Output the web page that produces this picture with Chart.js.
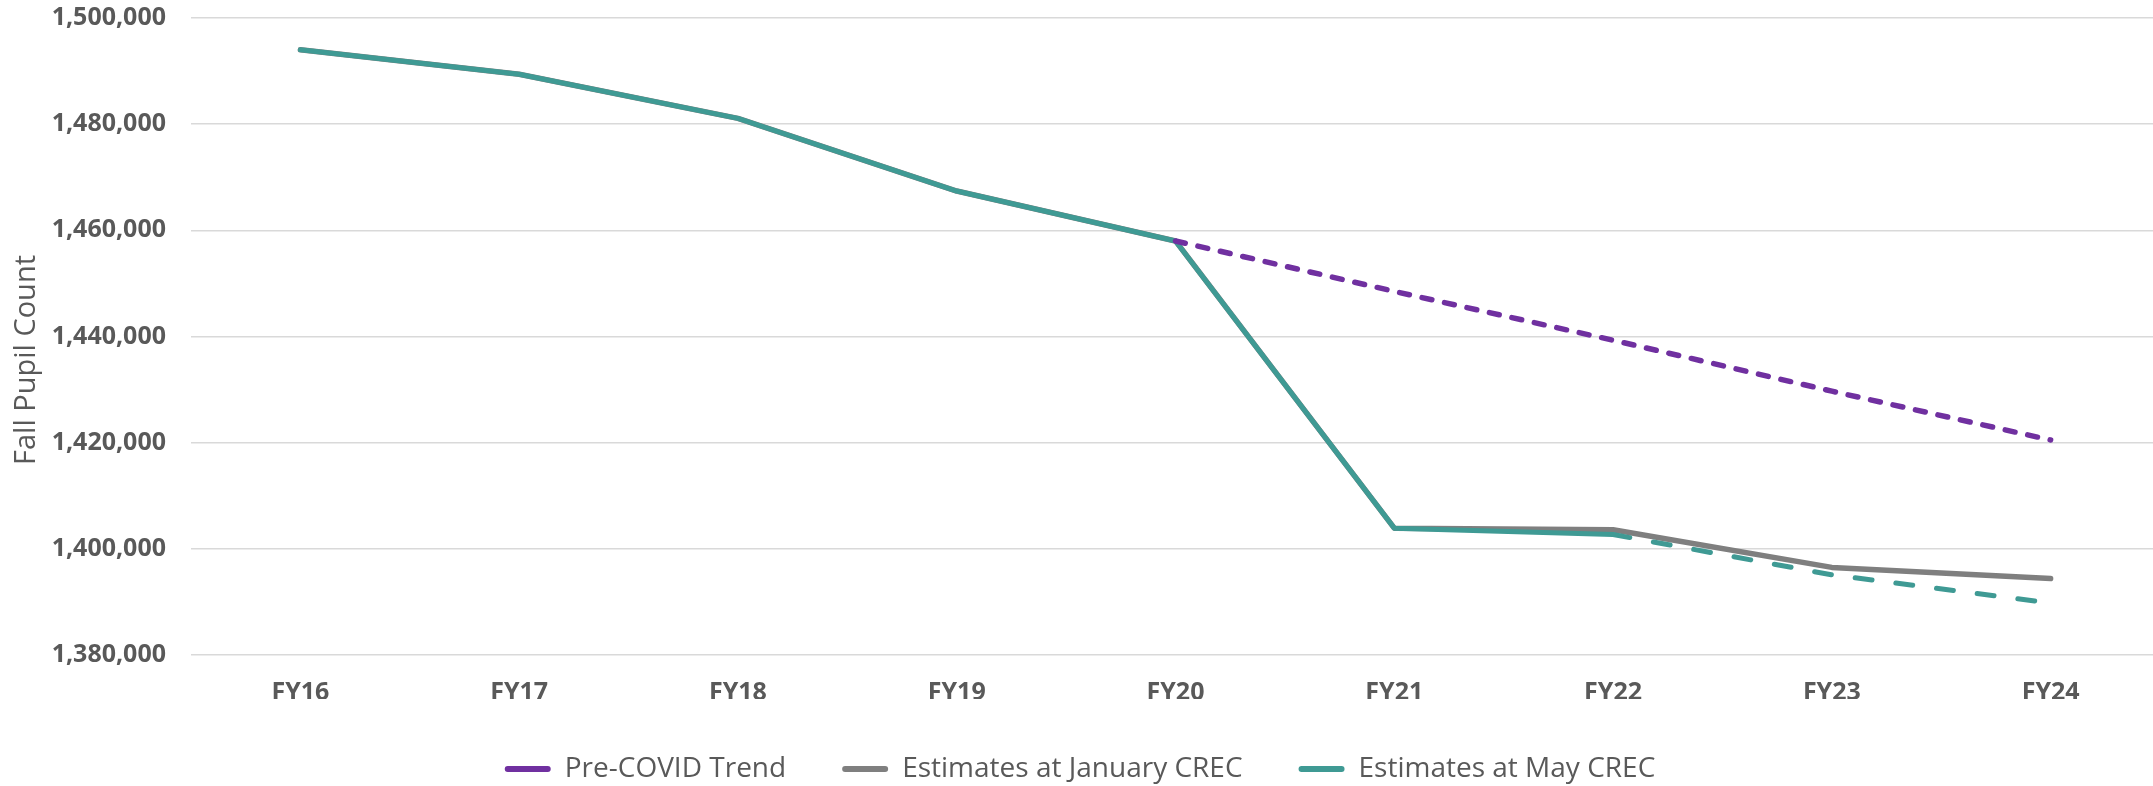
<!DOCTYPE html>
<html>
<head>
<meta charset="utf-8">
<script src="https://cdn.jsdelivr.net/npm/chart.js@4/dist/chart.umd.min.js"></script>
<style>
    html, body { margin: 0; padding: 0; background: #fff; overflow: hidden; }
    #wrap { width: 2153px; height: 786px; overflow: hidden; }
    canvas { display: block; }
</style>
</head>
<body>
<div id="wrap"><canvas id="pupilChart" width="2160" height="793"></canvas></div>
<script>
(function () {
    'use strict';

    // ── Data ─────────────────────────────────────────────────────
    const years       = ['FY16', 'FY17', 'FY18', 'FY19', 'FY20', 'FY21', 'FY22', 'FY23', 'FY24'];
    const preCovid    = [null, null, null, null, 1458000, 1448500, 1439300, 1429700, 1420500];
    const januaryCrec = [1494000, 1489400, 1481100, 1467400, 1458000, 1403900, 1403600, 1396500, 1394400];
    const mayCrec     = [1494000, 1489400, 1481100, 1467400, 1458000, 1403900, 1402700, 1395100, 1389800];
    const yTicks      = [1380000, 1400000, 1420000, 1440000, 1460000, 1480000, 1500000];

    // ── Styles ───────────────────────────────────────────────────
    const FONT_FAMILY = "'Open Sans', 'Segoe UI', sans-serif";
    const TEXT_COLOR  = '#595959';
    const GRID_COLOR  = '#D9D9D9';
    const PURPLE      = '#7030A0';
    const GRAY        = '#7F7F7F';
    const TEAL        = '#3F9A94';
    const PROJ_START  = 6;   // May CREC turns dashed after FY22

    Chart.defaults.font.family = FONT_FAMILY;
    Chart.defaults.color       = TEXT_COLOR;

    // y-axis title drawn by hand so it can sit lower than plot centre, like the original
    const yTitle = {
        id: 'yTitle',
        afterDraw(chart) {
            const c = chart.ctx;
            c.save();
            c.translate(27, 360);
            c.rotate(-Math.PI / 2);
            c.font = "29px " + FONT_FAMILY;
            c.fillStyle = TEXT_COLOR;
            c.textAlign = 'center';
            c.textBaseline = 'middle';
            c.fillText('Fall Pupil Count', 0, 0);
            c.restore();
        }
    };

    const lineBase = {
        pointRadius:      0,
        pointHoverRadius: 0,
        borderWidth:      5,
        borderCapStyle:   'round',
        borderJoinStyle:  'round',
        tension:          0,
        fill:             false
    };

    new Chart(document.getElementById('pupilChart'), {
        type: 'line',
        data: {
            labels: years,
            datasets: [
                Object.assign({}, lineBase, {
                    label:       'Pre-COVID Trend',
                    data:        preCovid,
                    borderColor: PURPLE,
                    borderWidth: 5.5,
                    borderDash:  [10, 13],
                    order:       0
                }),
                Object.assign({}, lineBase, {
                    label:       'Estimates at January CREC',
                    data:        januaryCrec,
                    borderColor: GRAY,
                    borderWidth: 5.5,
                    order:       2
                }),
                Object.assign({}, lineBase, {
                    label:       'Estimates at May CREC',
                    data:        mayCrec,
                    borderColor: TEAL,
                    order:       1,
                    segment: {
                        borderDash: ctx => ctx.p0DataIndex >= PROJ_START ? [17, 24] : undefined
                    }
                })
            ]
        },
        options: {
            responsive: false,
            animation: false,
            layout: { padding: { top: 18, left: 0, right: 0, bottom: 0 } },
            plugins: {
                tooltip: { enabled: false },
                legend: {
                    position: 'bottom',
                    labels: {
                        color:          TEXT_COLOR,
                        font:           { size: 28 },
                        boxWidth:       46,
                        boxHeight:      6,
                        padding:        56,
                        useBorderRadius: true,
                        borderRadius:   3,
                        generateLabels: chart => chart.data.datasets.map((ds, i) => ({
                            text:         ds.label,
                            fillStyle:    ds.borderColor,
                            strokeStyle:  ds.borderColor,
                            lineWidth:    0,
                            hidden:       false,
                            datasetIndex: i,
                            fontColor:    TEXT_COLOR,
                            borderRadius: 3
                        }))
                    }
                }
            },
            scales: {
                x: {
                    offset: true,
                    grid:   { display: false, drawTicks: false },
                    border: { display: false },
                    ticks:  { padding: 23, font: { size: 25, weight: 'bold' } },
                    afterFit: scale => { scale.height = 44; }
                },
                y: {
                    min: yTicks[0],
                    max: yTicks[yTicks.length - 1],
                    afterBuildTicks: scale => { scale.ticks = yTicks.map(v => ({ value: v })); },
                    grid:   { color: GRID_COLOR, lineWidth: 1.5, drawTicks: false },
                    border: { display: false },
                    ticks:  {
                        padding:  25,
                        font:     { size: 25, weight: 'bold' },
                        callback: v => Number(v).toLocaleString('en-US')
                    },
                    afterFit: scale => {
                        scale.width = 191;
                        scale.paddingTop = 0;     // labels fit inside the top margin
                        scale.paddingBottom = 0;
                    }
                }
            }
        },
        plugins: [yTitle]
    });
})();
</script>
</body>
</html>
